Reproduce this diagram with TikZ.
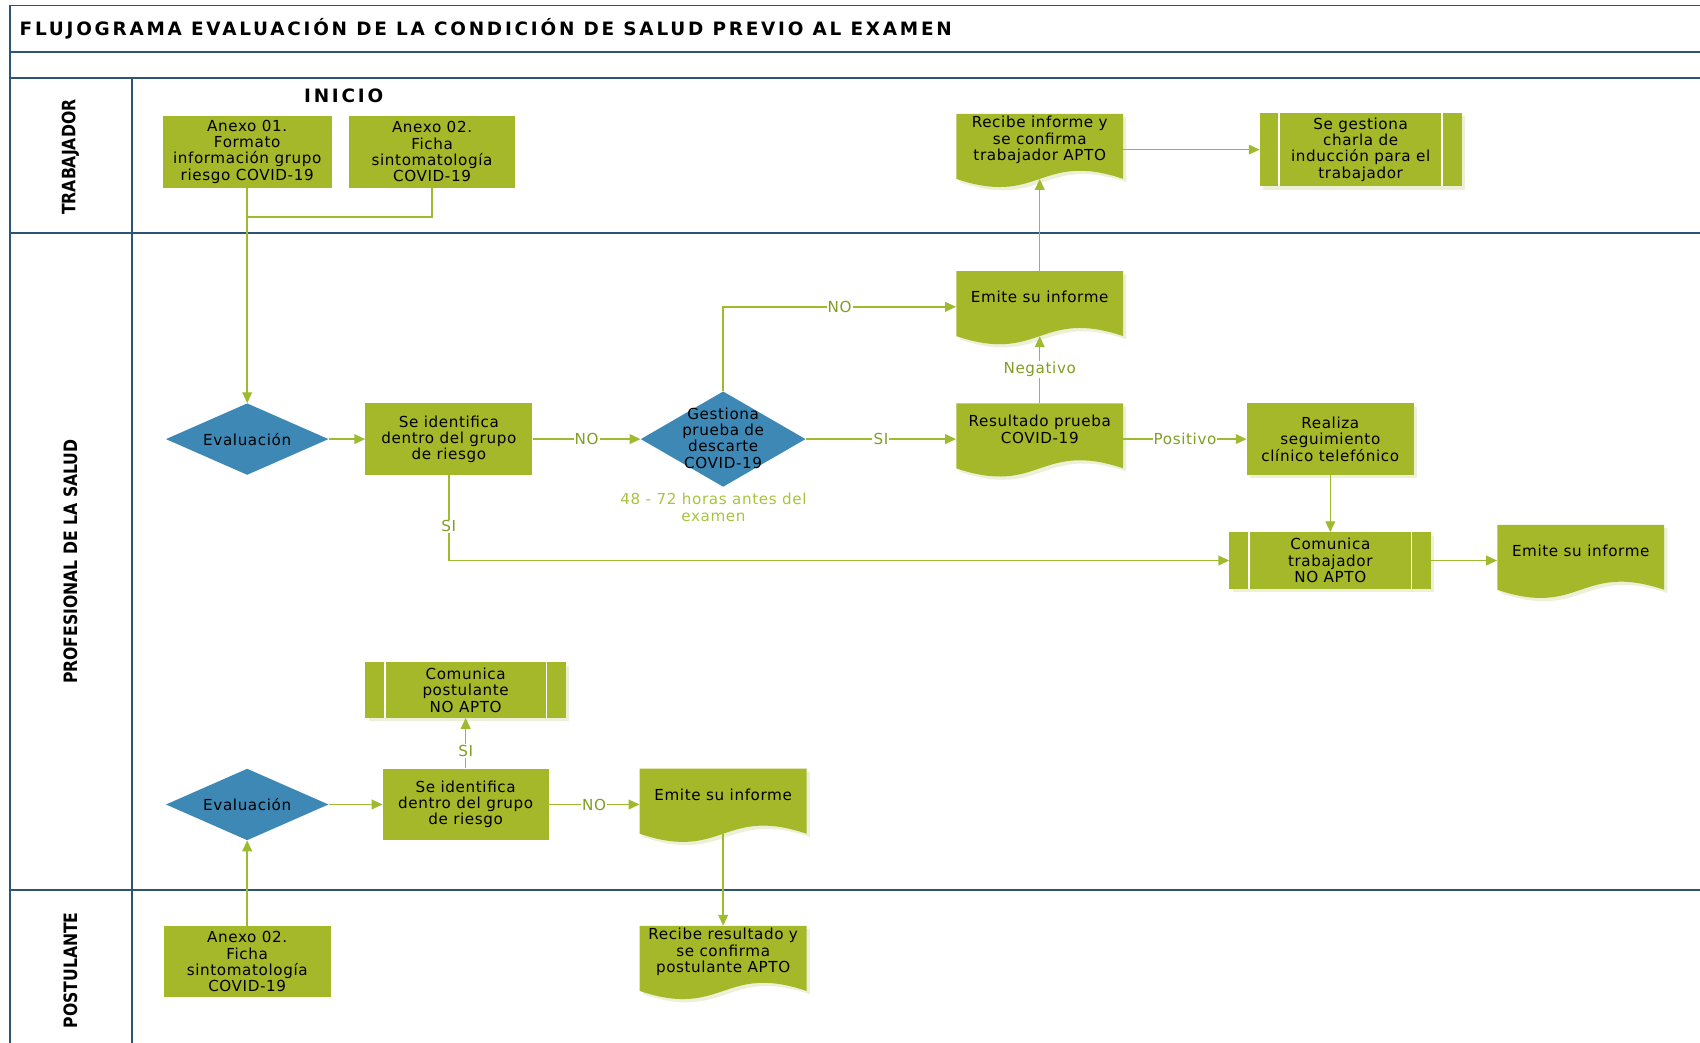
\documentclass[tikz,border=0pt]{standalone}
\usepackage{fontspec}
\setmainfont{DejaVu Sans}[LetterSpace=4]
\newfontfamily\titlefam{DejaVu Sans}[LetterSpace=15]
\newfontfamily\lanefam{DejaVu Sans}
\usetikzlibrary{shapes.geometric,arrows.meta,shadows,calc}
\definecolor{gfill}{RGB}{165,184,41}
\definecolor{dblue}{RGB}{62,136,181}
\definecolor{cline}{RGB}{158,186,46}
\definecolor{lanec}{RGB}{45,85,115}
\definecolor{lbltxt}{RGB}{128,158,35}
\definecolor{notec}{RGB}{168,196,60}
\definecolor{shadc}{RGB}{236,240,214}
\newcommand\bodyfont{\fontsize{14}{15}\selectfont}
\newcommand\titlefont{\titlefam\bfseries\fontsize{17}{19}\selectfont}
\newcommand\lanefont{\lanefam\bfseries\fontsize{17}{20}\selectfont}
\newcommand\docshape[4]{%
  \fill[shadc] ({#2-74},{#3+3}) -- ({#2+80},{#3+3}) -- ({#2+80},{#3+63}) .. controls ({#2+3},{#3+37}) and ({#2+3},{#3+89}) .. ({#2-74},{#3+63}) -- cycle;
  \fill[gfill] ({#2-77},{#3}) -- ({#2+77},{#3}) -- ({#2+77},{#3+60}) .. controls ({#2},{#3+34}) and ({#2},{#3+86}) .. ({#2-77},{#3+60}) -- cycle;
  \node[docn] (#1) at (#2,{#3+33}) {};
  \node[txt] (#1-t) at (#2,{#3+24}) {#4};
}
\tikzset{
  box/.style={rectangle, fill=gfill, inner sep=0pt, align=center, font=\bodyfont},
  shd/.style={drop shadow={shadow xshift=3pt, shadow yshift=-3pt, fill=shadc, opacity=1}},
  ppbox/.style={box, shd, path picture={
     \draw[white,line width=1.6pt] ([xshift=18pt]path picture bounding box.north west) -- ([xshift=18pt]path picture bounding box.south west);
     \draw[white,line width=1.6pt] ([xshift=-18pt]path picture bounding box.north east) -- ([xshift=-18pt]path picture bounding box.south east);}},
  docn/.style={rectangle, minimum width=154pt, minimum height=66pt, inner sep=0pt},
  txt/.style={align=center, font=\bodyfont, inner sep=0pt},
  dia/.style={diamond, fill=dblue, inner sep=0pt},
  conn/.style={draw=cline, line width=1.3pt, -{Triangle[length=10pt,width=9pt]}},
  lin/.style={draw=cline, line width=1.3pt},
  lbl/.style={fill=white, inner sep=1pt, text=lbltxt, font=\bodyfont},
  laneline/.style={draw=lanec, line width=1.6pt},
  lanelbl/.style={rotate=90, font=\lanefont, inner sep=0pt}
}
\begin{document}
\begin{tikzpicture}[x=1pt,y=-1pt]
\useasboundingbox (0,0) rectangle (1568,962);
% frame
\draw[laneline] (9,962) -- (9,5) -- (1568,5);
\draw[laneline] (9,48) -- (1568,48);
\draw[laneline] (9,72) -- (1568,72);
\draw[laneline] (9,215) -- (1568,215);
\draw[laneline] (9,821) -- (1568,821);
\draw[laneline] (122,72) -- (122,962);
\node[anchor=west, font=\titlefont, inner sep=0pt] (title) at (18,27) {FLUJOGRAMA EVALUACIÓN DE LA CONDICIÓN DE SALUD PREVIO AL EXAMEN};
\node[lanelbl] (lane1) at (65,145) {\scalebox{0.85}[1]{TRABAJADOR}};
\node[lanelbl] (lane2) at (65,518) {\scalebox{0.85}[1]{PROFESIONAL DE LA SALUD}};
\node[lanelbl] (lane3) at (65,895) {\scalebox{0.85}[1]{POSTULANTE}};
\node[font=\titlefont, inner sep=0pt] (inicio) at (317,88) {INICIO};
% trabajador lane
\node[box, minimum width=156pt, minimum height=66pt] (a01) at (228,140) {Anexo 01.\\Formato\\información grupo\\riesgo COVID-19};
\node[box, minimum width=153pt, minimum height=66pt] (a02) at (398.5,140) {Anexo 02.\\Ficha\\sintomatología\\COVID-19};
\docshape{rec1}{959}{105}{Recibe informe y\\se confirma\\trabajador APTO}
\node[ppbox, minimum width=186pt, minimum height=68pt] (charla) at (1255,138) {Se gestiona\\charla de\\inducción para el\\trabajador};
% profesional lane
\docshape{em1}{959}{250}{Emite su informe}
\node[dia, minimum width=150pt, minimum height=66pt] (ev1) at (228,405) {};
\node[txt] (ev1-t) at (ev1) {Evaluación};
\node[box, minimum width=154pt, minimum height=66pt] (si1) at (414,405) {Se identifica\\dentro del grupo\\de riesgo};
\node[dia, minimum width=152pt, minimum height=88pt] (ge) at (667,405) {};
\node[txt] (ge-t) at (667,404) {Gestiona\\prueba de\\descarte\\COVID-19};
\node[txt, text=notec] (nota) at (658,468) {48 - 72 horas antes del\\examen};
\docshape{res}{959}{372}{Resultado prueba\\COVID-19}
\node[box, shd, minimum width=154pt, minimum height=66pt] (real) at (1227,405) {Realiza\\seguimiento\\clínico telefónico};
\node[ppbox, minimum width=186pt, minimum height=52pt] (comT) at (1227,517) {Comunica\\trabajador\\NO APTO};
\docshape{em2}{1458}{484}{Emite su informe}
\node[ppbox, minimum width=185pt, minimum height=51pt] (comP) at (429.5,636.5) {Comunica\\postulante\\NO APTO};
\node[dia, minimum width=150pt, minimum height=66pt] (ev2) at (228,742) {};
\node[txt] (ev2-t) at (ev2) {Evaluación};
\node[box, minimum width=153pt, minimum height=66pt] (si2) at (429.5,742) {Se identifica\\dentro del grupo\\de riesgo};
\docshape{em3}{667}{709}{Emite su informe}
% postulante lane
\node[box, minimum width=154pt, minimum height=66pt] (a02b) at (228,887) {Anexo 02.\\Ficha\\sintomatología\\COVID-19};
\docshape{rec2}{667}{854}{Recibe resultado y\\se confirma\\postulante APTO}
% connectors
\coordinate (j1) at (228,200);
\draw[lin] (a02.south) |- (j1);
\draw[conn] (a01.south) -- (ev1.north);
\draw[conn] (ev1.east) -- (si1.west);
\draw[conn] (si1.east) -- node[lbl]{NO} (ge.west);
\draw[conn] (ge.north) |- node[lbl,pos=0.75]{NO} (em1.west);
\draw[conn] (ge.east) -- node[lbl]{SI} (res.west);
\draw[conn] (res.north) -- node[lbl]{Negativo} ([yshift=6pt]em1.south);
\draw[conn] (em1.north) -- ([yshift=6pt]rec1.south);
\draw[conn] (rec1.east) -- (charla.west);
\draw[conn] (res.east) -- node[lbl]{Positivo} (real.west);
\draw[conn] (si1.south) |- node[lbl,pos=0.3]{SI} (comT.west);
\draw[conn] (real.south) -- (comT.north);
\draw[conn] (comT.east) -- (em2.west);
\draw[conn] (ev2.east) -- (si2.west);
\draw[conn] (si2.north) -- node[lbl,pos=0.35]{SI} (comP.south);
\draw[conn] (si2.east) -- node[lbl]{NO} (em3.west);
\draw[conn] ([yshift=6pt]em3.south) -- (rec2.north);
\draw[conn] (a02b.north) -- (ev2.south);
\end{tikzpicture}
\end{document}
